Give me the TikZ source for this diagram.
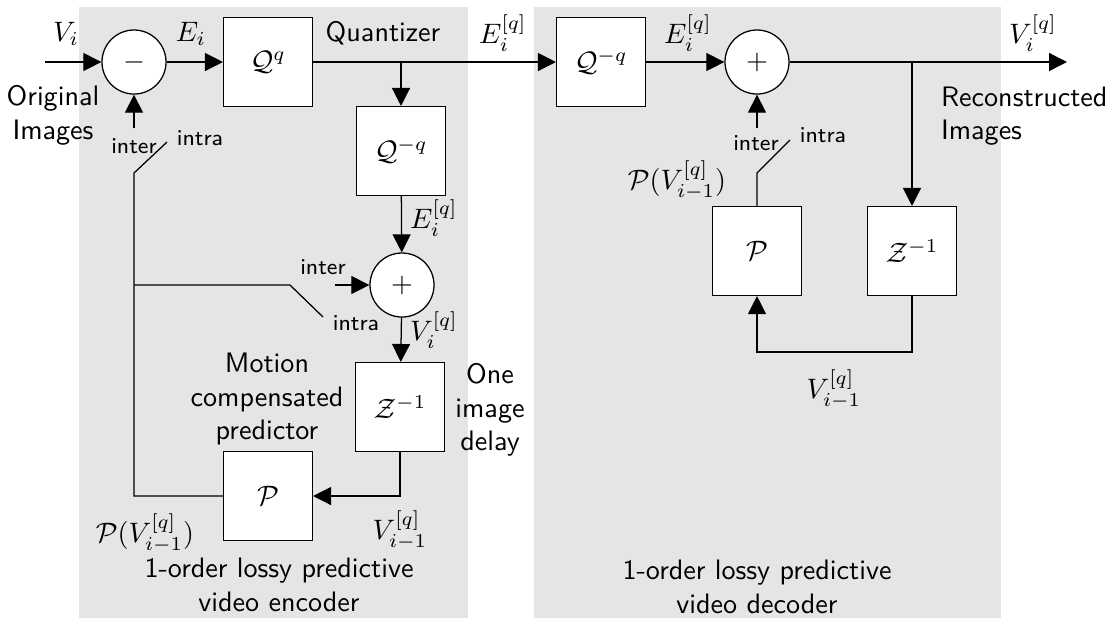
\documentclass[tikz,border=0pt]{standalone}
\usepackage{amsmath}
\usepackage{tikz}
\usetikzlibrary{arrows.meta}

\tikzset{
  blk/.style={draw, fill=white, minimum size=1.11cm, inner sep=0pt},
  sumop/.style={draw, circle, fill=white, minimum size=0.8cm, inner sep=0pt},
  sw/.style={font=\sffamily\footnotesize, inner sep=0pt},
  sig/.style={-{Triangle[length=6.4pt,width=6.4pt]}},
}

\begin{document}
\begin{tikzpicture}[x=0.0125cm, y=-0.0125cm, font=\sffamily, line width=0.45pt]
\useasboundingbox (0,0) rectangle (1110,618);
% the two gray halves
\fill[gray!20] (79,7) rectangle (468,618);
\fill[gray!20] (534,7) rectangle (1001,618);

% encoder blocks
\node[sumop] (sub) at (134,62) {$-$};
\node[blk] (Qq) at (268,62) {$\mathcal{Q}^q$};
\node[blk] (Qinv) at (401,151) {$\mathcal{Q}^{-q}$};
\node[sumop] (add) at (402,285) {$+$};
\node[blk] (Z) at (400,407) {$\mathcal{Z}^{-1}$};
\node[blk] (P) at (268,496) {$\mathcal{P}$};

% decoder blocks
\node[blk] (Qinvd) at (601,62) {$\mathcal{Q}^{-q}$};
\node[sumop] (addd) at (757,62) {$+$};
\node[blk] (Pd) at (757,251) {$\mathcal{P}$};
\node[blk] (Zd) at (912,251) {$\mathcal{Z}^{-1}$};

% points of the wires
\coordinate (in) at (45,62);
\coordinate (br) at (401,62);
\coordinate (out) at (1067,62);
\coordinate (brd) at (912,62);
\coordinate (swa) at (134,173);
\coordinate (swb) at (167,142);
\coordinate (swt) at (134,128);
\coordinate (swc) at (134,285);
\coordinate (swd) at (290,285);
\coordinate (swe) at (323,317);
\coordinate (swf) at (335,285);
\coordinate (swda) at (757,173);
\coordinate (swdb) at (790,140);
\coordinate (swdt) at (757,128);

% encoder wires
\draw[sig] (in) -- (sub);
\draw[sig] (sub) -- (Qq);
\draw[sig] (Qq) -- (Qinvd);
\draw[sig] (br) -- (Qinv);
\draw[sig] (Qinv) -- (add);
\draw[sig] (add) -- (Z);
\draw[sig] (Z.south) |- (P.east);
\draw (P.west) -| (swa) -- (swb);
\draw[sig] (swt) -- (sub);
\draw (swc) -- (swd) -- (swe);
\draw[sig] (swf) -- (add);

% decoder wires
\draw[sig] (Qinvd) -- (addd);
\draw[sig] (addd) -- (out);
\draw[sig] (brd) -- (Zd);
\draw[sig] (Zd.south) -- ++(0,56) -| (Pd.south);
\draw (Pd.north) -- (swda) -- (swdb);
\draw[sig] (swdt) -- (addd);

% labels
\node (lVi) at (66,34) {$V_i$};
\node (lEi) at (191,34) {$E_i$};
\node (lquant) at (383,33) {Quantizer};
\node (lEq) at (503,33) {$E_i^{[q]}$};
\node[align=center] (lorig) at (53,115) {Original\\Images};
\node[sw] (linter) at (134,146) {inter};
\node[sw] (lintra) at (200,138) {intra};
\node (lEq2) at (434,218) {$E_i^{[q]}$};
\node[sw] (linter2) at (323,267) {inter};
\node[sw] (lintra2) at (356,323) {intra};
\node (lVq) at (434,330) {$V_i^{[q]}$};
\node[align=center] (lmotion) at (267,399) {Motion\\compensated\\predictor};
\node[align=center] (ldelay) at (490,410) {One\\image\\delay};
\node (lPV) at (145,533) {$\mathcal{P}(V_{i-1}^{[q]})$};
\node (lVq1) at (400,530) {$V_{i-1}^{[q]}$};
\node[align=center] (lenc) at (279,585) {1-order lossy predictive\\video encoder};

\node (lEqd) at (688,33) {$E_i^{[q]}$};
\node (lVqd) at (1033,33) {$V_i^{[q]}$};
\node[align=left, anchor=west] (lrec) at (931,116) {Reconstructed\\Images};
\node[sw] (linterd) at (756,143) {inter};
\node[sw] (lintrad) at (823,135) {intra};
\node (lPVd) at (677,180) {$\mathcal{P}(V_{i-1}^{[q]})$};
\node (lVq1d) at (834,389) {$V_{i-1}^{[q]}$};
\node[align=center] (ldec) at (757,587) {1-order lossy predictive\\video decoder};
\end{tikzpicture}
\end{document}
